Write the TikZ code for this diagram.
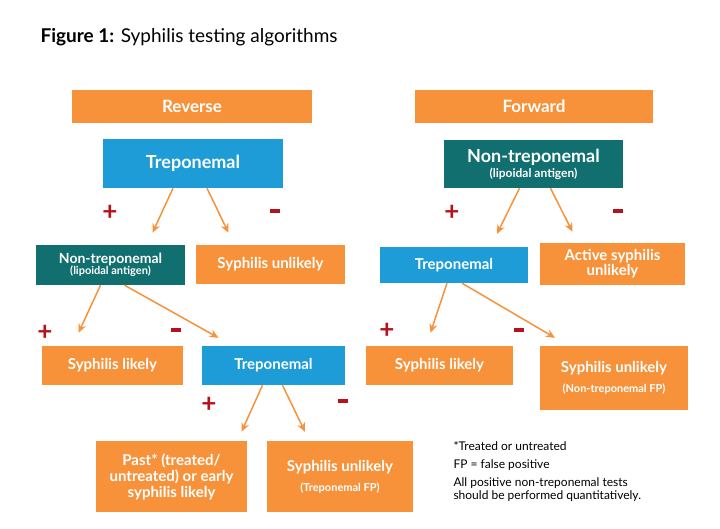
\documentclass[tikz,border=0pt]{standalone}
\usepackage{fontspec}
\setmainfont{Lato}
\usetikzlibrary{arrows.meta}
\definecolor{org}{HTML}{F7923A}
\definecolor{blu}{HTML}{1E9CD7}
\definecolor{tea}{HTML}{11706F}
\definecolor{rd}{HTML}{B5121B}
\newcommand{\smalltxt}{\fontsize{11}{12}\selectfont}
\begin{document}
\begin{tikzpicture}[x=1pt,y=-1pt,
  box/.style={draw=none,text=white,align=center,inner sep=2pt,font=\bfseries\fontsize{15}{17}\selectfont},
  arr/.style={draw=org,line width=1.5pt,-{Stealth[length=9pt,width=8pt]}},
  pl/.style={text=rd,font=\bfseries\fontsize{26}{26}\selectfont},
  mi/.style={text=rd}]
\useasboundingbox (0,0) rectangle (720,529);
\node[anchor=west,font=\fontsize{19}{22}\selectfont] (title) at (37,37) {\textbf{Figure 1:} Syphilis testing algorithms};
\node[box,fill=org,minimum width=240,minimum height=33,font=\bfseries\fontsize{17}{19}\selectfont] (rev) at (192,106.5) {Reverse};
\node[box,fill=org,minimum width=238,minimum height=33,font=\bfseries\fontsize{17}{19}\selectfont] (fwd) at (534,106.5) {Forward};
\node[box,fill=blu,minimum width=180,minimum height=49,font=\bfseries\fontsize{18}{20}\selectfont] (t1) at (193,163.5) {Treponemal};
\node[box,fill=tea,minimum width=179,minimum height=48,font=\bfseries\fontsize{18}{17}\selectfont] (nt1) at (533.5,164) {Non-treponemal\\[-2pt]{\fontsize{12}{12}\selectfont(lipoidal antigen)}};
\node[box,fill=tea,minimum width=149,minimum height=40,font=\bfseries\fontsize{14}{13}\selectfont] (n2) at (110.5,265) {Non-treponemal\\[-2pt]{\smalltxt(lipoidal antigen)}};
\node[box,fill=org,minimum width=149,minimum height=39] (su1) at (270.5,264.5) {Syphilis unlikely};
\node[box,fill=blu,minimum width=148,minimum height=36] (t3) at (454,265) {Treponemal};
\node[box,fill=org,minimum width=145,minimum height=42,font=\bfseries\fontsize{15}{13}\selectfont] (asu) at (612.5,264) {Active syphilis\\unlikely};
\node[box,fill=org,minimum width=141,minimum height=39] (sl1) at (112.5,365.5) {Syphilis likely};
\node[box,fill=blu,minimum width=143,minimum height=39] (t2) at (273.5,365.5) {Treponemal};
\node[box,fill=org,minimum width=147,minimum height=39] (sl2) at (439.5,365.5) {Syphilis likely};
\node[box,fill=org,minimum width=148,minimum height=64] (su2) at (614,378) {Syphilis unlikely\\[3pt]{\smalltxt(Non-treponemal FP)}};
\node[box,fill=org,minimum width=151,minimum height=71,font=\bfseries\fontsize{15}{16}\selectfont] (past) at (171.5,476.5) {Past* (treated/\\untreated) or early\\syphilis likely};
\node[box,fill=org,minimum width=146,minimum height=71] (su3) at (340,476.5) {Syphilis unlikely\\[3pt]{\smalltxt(Treponemal FP)}};
\node[anchor=north west,align=left,font=\fontsize{12}{18}\selectfont] (note) at (450,438) {*Treated or untreated\\FP = false positive\\All positive non-treponemal tests\\[-5pt]should be performed quantitatively.};
% signs
\node[pl] (p1) at (110,213) {+}; \node[mi] (m1) at (275,211) {\rule{10pt}{4pt}};
\node[pl] (p2) at (452,213) {+}; \node[mi] (m2) at (618,211) {\rule{10pt}{4pt}};
\node[pl] (p3) at (45,333) {+}; \node[mi] (m3) at (176,330) {\rule{10pt}{4pt}};
\node[pl] (p4) at (387,331) {+}; \node[mi] (m4) at (519,330) {\rule{10pt}{4pt}};
\node[pl] (p5) at (209,405) {+}; \node[mi] (m5) at (343,401) {\rule{10pt}{4pt}};
% arrows
\draw[arr] ([xshift=-20]t1.south) -- ([xshift=42,yshift=12]n2.north);
\draw[arr] ([xshift=14]t1.south) -- ([xshift=-42,yshift=12]su1.north);
\draw[arr] ([xshift=-14]nt1.south) -- ([xshift=43,yshift=13]t3.north);
\draw[arr] ([xshift=17]nt1.south) -- ([xshift=-40,yshift=11]asu.north);
\draw[arr] ([xshift=-10]n2.south) -- ([xshift=-34,yshift=13]sl1.north);
\draw[arr] ([xshift=14]n2.south) -- ([xshift=-55,yshift=8]t2.north);
\draw[arr] ([xshift=-7]t3.south) -- ([xshift=-9,yshift=13]sl2.north);
\draw[arr] ([xshift=8]t3.south) -- ([xshift=-59,yshift=8]su2.north);
\draw[arr] ([xshift=-11]t2.south) -- ([xshift=70,yshift=9]past.north);
\draw[arr] ([xshift=9]t2.south) -- ([xshift=-35,yshift=9]su3.north);
\end{tikzpicture}
\end{document}
